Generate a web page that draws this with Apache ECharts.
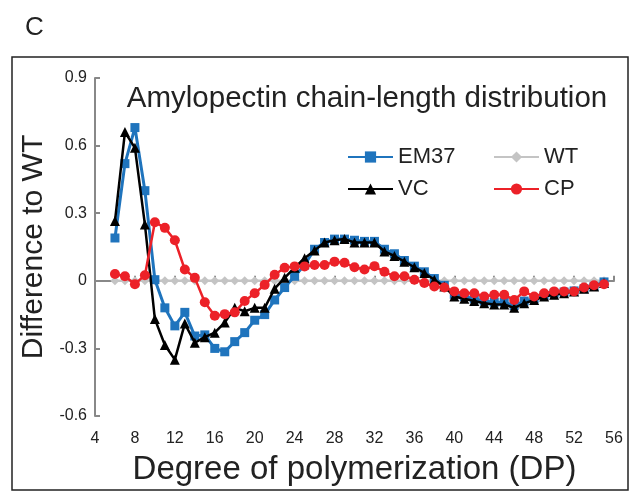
<!DOCTYPE html>
<html>
<head>
<meta charset="utf-8">
<script src="https://cdn.jsdelivr.net/npm/echarts@6/dist/echarts.min.js"></script>
<style>
html, body { margin: 0; padding: 0; background: #fff; }
#chart { width: 637px; height: 498px; }
</style>
</head>
<body>
<div id="chart"></div>
<script>
// degree of polymerization 6..55
var dp = [];
for (var i = 6; i <= 55; i++) dp.push(i);

var em37 = [0.19, 0.52, 0.68, 0.40, 0.005, -0.12, -0.20, -0.14, -0.245, -0.24,
            -0.30, -0.315, -0.27, -0.23, -0.175, -0.15, -0.085, -0.03, 0.02, 0.07,
            0.14, 0.17, 0.185, 0.185, 0.18, 0.175, 0.175, 0.14, 0.12, 0.09,
            0.065, 0.04, 0.01, -0.02, -0.06, -0.07, -0.08, -0.09, -0.095, -0.095,
            -0.11, -0.09, -0.08, -0.065, -0.055, -0.05, -0.045, -0.035, -0.025, -0.005];
var vc = [0.265, 0.66, 0.59, 0.25, -0.17, -0.285, -0.35, -0.19, -0.275, -0.25,
          -0.23, -0.185, -0.12, -0.135, -0.12, -0.12, -0.035, 0.013, 0.058, 0.10,
          0.135, 0.17, 0.18, 0.185, 0.17, 0.17, 0.17, 0.13, 0.11, 0.085,
          0.06, 0.035, 0.005, -0.025, -0.07, -0.08, -0.09, -0.10, -0.105, -0.105,
          -0.12, -0.10, -0.085, -0.07, -0.062, -0.055, -0.047, -0.035, -0.025, -0.01];
var wt = [];
for (var j = 0; j < dp.length; j++) wt.push(0);
var cp = [0.03, 0.02, -0.015, 0.025, 0.26, 0.235, 0.18, 0.05, 0.013, -0.095,
          -0.155, -0.148, -0.14, -0.09, -0.055, -0.018, 0.027, 0.058, 0.064, 0.064,
          0.07, 0.07, 0.085, 0.08, 0.06, 0.05, 0.065, 0.04, 0.02, 0.02,
          0.005, -0.01, -0.025, -0.03, -0.047, -0.055, -0.055, -0.07, -0.062, -0.062,
          -0.085, -0.047, -0.07, -0.055, -0.047, -0.047, -0.047, -0.03, -0.02, -0.015];

function pairs(arr) {
    return arr.map(function (v, k) { return [dp[k], v]; });
}

var font = '"Liberation Sans", Arial, sans-serif';

var dom = document.getElementById("chart");
var myChart = echarts.init(dom);

option = {
    animation: false,
    backgroundColor: '#fff',
    textStyle: { fontFamily: font },
    title: [
        { text: 'C', left: 20, top: 10, textStyle: { fontFamily: font, fontSize: 26, fontWeight: 'normal', color: '#222' } },
        { text: 'Amylopectin chain-length distribution', left: 362, textAlign: 'center', top: 79,
          textStyle: { fontFamily: font, fontSize: 29.5, fontWeight: 'normal', color: '#222' } }
    ],
    graphic: [
        { type: 'rect', shape: { x: 12, y: 57, width: 616, height: 433 },
          style: { fill: 'none', stroke: '#222', lineWidth: 1.5 }, z: -1 }
    ],
    legend: [
        { data: ['EM37', 'VC'], orient: 'vertical', left: 342, top: 141, itemWidth: 45, itemHeight: 14, itemGap: 10,
          textStyle: { fontFamily: font, fontSize: 22, color: '#222' } },
        { data: ['WT', 'CP'], orient: 'vertical', left: 488, top: 141, itemWidth: 45, itemHeight: 14, itemGap: 10,
          textStyle: { fontFamily: font, fontSize: 22, color: '#222' } }
    ],
    grid: { left: 95, right: 23, top: 78, bottom: 82 },
    xAxis: {
        type: 'value', min: 4, max: 56, interval: 4,
        name: 'Degree of polymerization (DP)', nameLocation: 'middle', nameGap: 37,
        nameTextStyle: { fontFamily: font, fontSize: 33, color: '#222' },
        axisLine: { lineStyle: { color: '#888', width: 2 } },
        axisTick: { inside: true, length: 5, lineStyle: { color: '#888', width: 2 } },
        axisLabel: { fontFamily: font, fontSize: 16, color: '#222', margin: 15 },
        splitLine: { show: false }
    },
    yAxis: {
        type: 'value', min: -0.6, max: 0.9, interval: 0.3,
        name: 'Difference to WT', nameLocation: 'middle', nameGap: 36, nameRotate: 90,
        nameTextStyle: { fontFamily: font, fontSize: 30, color: '#222' },
        axisLine: { show: true, lineStyle: { color: '#888', width: 2 } },
        axisTick: { show: true, inside: true, length: 5, lineStyle: { color: '#888', width: 2 } },
        axisLabel: { fontFamily: font, fontSize: 16, color: '#222', margin: 8,
            formatter: function (v) { return v === 0 ? '0' : v.toFixed(1); } },
        splitLine: { show: false }
    },
    series: [
        { name: 'WT', type: 'line', data: pairs(wt), symbol: 'diamond', symbolSize: 9,
          itemStyle: { color: '#c4c4c4' }, lineStyle: { color: '#c4c4c4', width: 2.5 }, z: 1 },
        { name: 'EM37', type: 'line', data: pairs(em37), symbol: 'rect', symbolSize: 9,
          itemStyle: { color: '#1f74bd' }, lineStyle: { color: '#1f74bd', width: 3 }, z: 2 },
        { name: 'VC', type: 'line', data: pairs(vc), symbol: 'triangle', symbolSize: 10,
          itemStyle: { color: '#000' }, lineStyle: { color: '#000', width: 2.5 }, z: 3 },
        { name: 'CP', type: 'line', data: pairs(cp), symbol: 'circle', symbolSize: 10,
          itemStyle: { color: '#ec2128' }, lineStyle: { color: '#ec2128', width: 2.5 }, z: 4 }
    ]
};

myChart.setOption(option);
</script>
</body>
</html>
